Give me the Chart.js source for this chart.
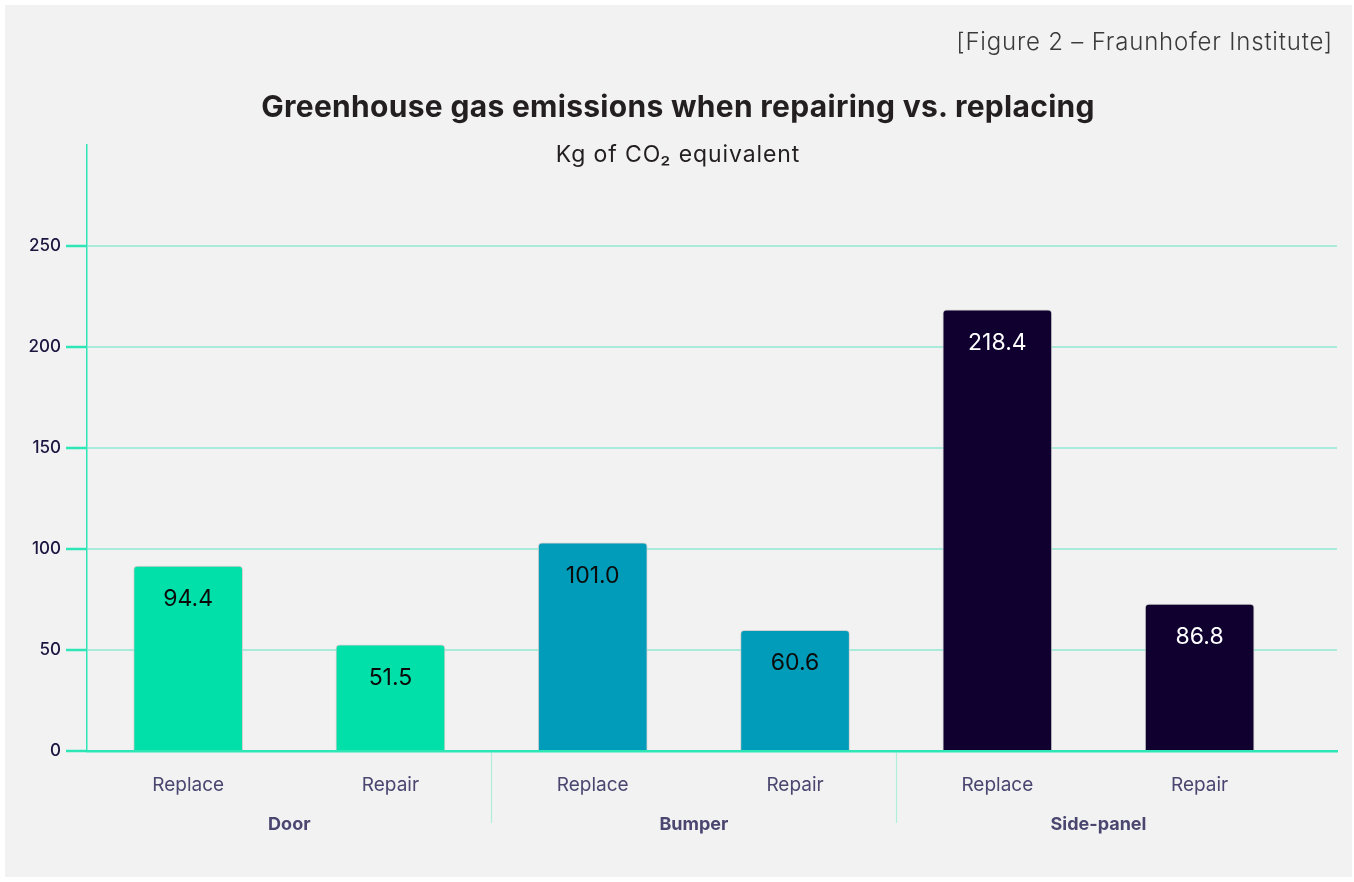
<!DOCTYPE html>
<html>
<head>
<meta charset="utf-8">
<script src="https://cdn.jsdelivr.net/npm/chart.js@4.4.1/dist/chart.umd.min.js"></script>
<style>
  html, body { margin:0; padding:0; background:#ffffff; }
  body { width:1354px; height:882px; position:relative; overflow:hidden; font-family: Inter, Lato, sans-serif; }
  #panel { position:absolute; left:5px; top:5px; width:1347px; height:872px; background:#f2f2f2; }
  #chart { position:absolute; left:0; top:0; }
  .txt { position:absolute; white-space:nowrap; }
  #source { right:21px; top:27px; font-size:24px; color:#3a3a3a; font-weight:300; letter-spacing:0.8px; }
  #title { left:0; width:1356px; text-align:center; top:88px; font-size:30px; font-weight:700; color:#231f20; letter-spacing:0.3px; }
  #subtitle { left:0; width:1356px; text-align:center; top:140px; font-size:23px; font-weight:400; color:#231f20; letter-spacing:0.9px; }
</style>
</head>
<body>
<div id="panel"></div>
<canvas id="chart" width="1354" height="882"></canvas>
<div class="txt" id="source">[Figure 2 – Fraunhofer Institute]</div>
<div class="txt" id="title">Greenhouse gas emissions when repairing vs. replacing</div>
<div class="txt" id="subtitle">Kg of CO₂ equivalent</div>
<script>
// ---- data ----
const groups = ["Door", "Bumper", "Side-panel"];
const subLabels = ["Replace", "Repair", "Replace", "Repair", "Replace", "Repair"];
const barGroup = [0, 0, 1, 1, 2, 2];
const barValues = [91.6, 52.6, 103.0, 59.7, 218.4, 72.7];
// value labels printed on the bars
const printedLabels = ["94.4", "51.5", "101.0", "60.6", "218.4", "86.8"];
const yTicks = [0, 50, 100, 150, 200, 250];
const yMax = 300;

// ---- styles ----
const FONT = 'Inter, Lato, "Noto Sans", sans-serif';
const groupColors = ["#00e0a8", "#009cb9", "#0f0030"];
const labelColors = ["#0b0b0b", "#0b0b0b", "#ffffff"];
const teal = "#2de6b6";
const gridMint = "#aaeadb";
const axisText = "#1c1540";
const catText = "#4b4670";

const points = barValues.map((v, i) => ({ x: i, y: v }));

const valueLabelPlugin = {
  id: 'valueLabels',
  afterDatasetsDraw(chart) {
    const ctx = chart.ctx;
    const meta = chart.getDatasetMeta(0);
    ctx.save();
    ctx.font = '400 23px ' + FONT;
    ctx.textAlign = 'center';
    ctx.textBaseline = 'middle';
    meta.data.forEach((el, i) => {
      ctx.fillStyle = labelColors[barGroup[i]];
      ctx.fillText(printedLabels[i], el.x, el.y + 33);
    });
    ctx.restore();
  }
};

const xTickValues = [0, 0.5, 1, 1.5, 2, 2.5, 3, 3.5, 4, 4.5, 5];
const isGroupCenter = v => Math.abs(v % 2 - 0.5) < 1e-6;   // 0.5, 2.5, 4.5
const isDivider = v => Math.abs(v % 2 - 1.5) < 1e-6;       // 1.5, 3.5

new Chart(document.getElementById('chart'), {
  type: 'bar',
  data: {
    datasets: [{
      data: points,
      backgroundColor: barGroup.map(g => groupColors[g]),
      borderColor: 'rgba(200,200,200,0.8)',
      borderWidth: 1,
      borderRadius: 4,
      borderSkipped: 'start',
      barThickness: 109
    }]
  },
  options: {
    responsive: false,
    animation: false,
    devicePixelRatio: 1,
    layout: { padding: { left: 0, top: 145, right: 17, bottom: 0 } },
    plugins: { legend: { display: false }, tooltip: { enabled: false }, title: { display: false } },
    scales: {
      x: {
        type: 'linear',
        offset: false,
        min: -0.5,
        max: 5.679,
        afterBuildTicks: s => { s.ticks = xTickValues.map(v => ({ value: v })); },
        afterFit: s => { s.height = 131; },
        grid: {
          offset: false,
          drawOnChartArea: false,
          drawTicks: true,
          tickLength: 72,
          tickWidth: 1.2,
          tickColor: c => (c.tick && isDivider(c.tick.value)) ? '#aeeedb' : 'rgba(0,0,0,0)'
        },
        border: { display: true, color: teal, width: 2.5 },
        ticks: {
          autoSkip: false,
          maxRotation: 0,
          minRotation: 0,
          padding: -58,
          color: catText,
          font: c => {
            const v = c.tick ? c.tick.value : 0;
            return isGroupCenter(v)
              ? { family: FONT, size: 18, weight: '700', lineHeight: '40px' }
              : { family: FONT, size: 19, weight: '400', lineHeight: '40px' };
          },
          callback: v => {
            if (Number.isInteger(v)) return [subLabels[v], ''];
            if (isGroupCenter(v)) return ['', groups[Math.floor(v / 2)]];
            return '';
          }
        }
      },
      y: {
        min: 0,
        max: yMax,
        afterBuildTicks: s => { s.ticks = yTicks.concat([yMax]).map(v => ({ value: v })); },
        afterFit: s => { s.width = 87; },
        grid: {
          color: c => (c.tick && c.tick.value === yMax) ? 'rgba(0,0,0,0)' : gridMint,
          lineWidth: 2,
          tickLength: 21,
          tickWidth: 2.5,
          tickColor: c => (c.tick && c.tick.value === yMax) ? 'rgba(0,0,0,0)' : teal
        },
        border: { display: true, color: teal, width: 1.5 },
        ticks: {
          padding: 5,
          color: axisText,
          font: { family: FONT, size: 17, weight: '500' },
          callback: v => (v === yMax ? '' : String(v))
        }
      }
    }
  },
  plugins: [valueLabelPlugin]
});
</script>
</body>
</html>
